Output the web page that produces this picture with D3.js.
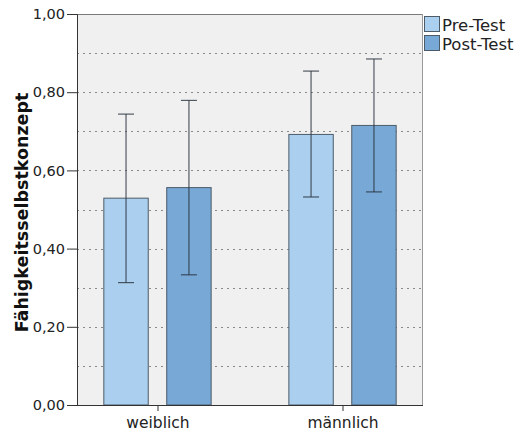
<!DOCTYPE html>
<html>
<head>
<meta charset="utf-8">
<script src="https://cdn.jsdelivr.net/npm/d3@7/dist/d3.min.js"></script>
<style>
  html, body { margin: 0; padding: 0; background: #fff; }
  svg { display: block; }
  text { font-family: "DejaVu Sans", sans-serif; }
</style>
</head>
<body>
<svg id="chart" width="520" height="434"></svg>
<script>
const categories = ["weiblich", "männlich"];
const seriesNames = ["Pre-Test", "Post-Test"];
const means = { "Pre-Test": [0.529, 0.692], "Post-Test": [0.556, 0.715] };
const lower = { "Pre-Test": [0.313, 0.532], "Post-Test": [0.333, 0.545] };
const upper = { "Pre-Test": [0.744, 0.854], "Post-Test": [0.779, 0.885] };
const yTicks = [0, 0.2, 0.4, 0.6, 0.8, 1.0];
const gridValues = [0.1, 0.2, 0.3, 0.4, 0.5, 0.6, 0.7, 0.8, 0.9];
const colors = { "Pre-Test": "#abcfee", "Post-Test": "#77a8d6" };

const svg = d3.select("#chart");
const m = { left: 77, right: 423, top: 14, bottom: 405 };

const y = d3.scaleLinear().domain([0, 1]).range([m.bottom, m.top]);
const x = d3.scalePoint().domain(categories).range([m.left, m.right]).padding(0.435);
const step = x.step();
const barW = step * 0.24;
const gap = step * 0.1;
const offs = { "Pre-Test": -gap / 2 - barW, "Post-Test": gap / 2 };

// background
svg.append("rect").attr("x", m.left).attr("y", m.top)
  .attr("width", m.right - m.left).attr("height", m.bottom - m.top)
  .attr("fill", "#f0f0f0");

// grid
svg.append("g").selectAll("line").data(gridValues).join("line")
  .attr("x1", m.left).attr("x2", m.right)
  .attr("y1", d => Math.round(y(d)) + 0.5).attr("y2", d => Math.round(y(d)) + 0.5)
  .attr("stroke", "#8a8a8a").attr("stroke-width", 1).attr("stroke-dasharray", "2,4");

// frame top/right
svg.append("line").attr("x1", m.left).attr("x2", m.right).attr("y1", m.top + 0.5).attr("y2", m.top + 0.5)
  .attr("stroke", "#7a7a7a");
svg.append("line").attr("x1", m.right - 0.5).attr("x2", m.right - 0.5).attr("y1", m.top).attr("y2", m.bottom)
  .attr("stroke", "#9a9a9a");

// bars
const data = [];
seriesNames.forEach(s => categories.forEach((c, i) => data.push({ s, c, v: means[s][i], lo: lower[s][i], hi: upper[s][i] })));

svg.append("g").selectAll("rect").data(data).join("rect")
  .attr("x", d => x(d.c) + offs[d.s])
  .attr("y", d => y(d.v))
  .attr("width", barW)
  .attr("height", d => y(0) - y(d.v))
  .attr("fill", d => colors[d.s])
  .attr("stroke", "#4d5b69").attr("stroke-width", 1);

// error bars
const eb = svg.append("g").attr("stroke", "#2b3540").attr("stroke-opacity", 0.8).attr("stroke-width", 1.2);
data.forEach(d => {
  const cx = x(d.c) + offs[d.s] + barW / 2;
  eb.append("line").attr("x1", cx).attr("x2", cx).attr("y1", y(d.hi)).attr("y2", y(d.lo));
  eb.append("line").attr("x1", cx - 8).attr("x2", cx + 8).attr("y1", y(d.hi)).attr("y2", y(d.hi));
  eb.append("line").attr("x1", cx - 8).attr("x2", cx + 8).attr("y1", y(d.lo)).attr("y2", y(d.lo));
});

// y axis
const yAxis = svg.append("g").attr("transform", `translate(${m.left},0)`)
  .call(d3.axisLeft(y).tickValues(yTicks).tickSize(10).tickPadding(2)
    .tickFormat(d => d3.format(".2f")(d).replace(".", ",")));
yAxis.select(".domain").attr("stroke", "#333");
yAxis.selectAll(".tick line").attr("stroke", "#333");
yAxis.selectAll("text").attr("font-size", 14.5).attr("fill", "#222")
  .attr("font-family", "DejaVu Sans, sans-serif");

// x axis
const xAxis = svg.append("g").attr("transform", `translate(0,${m.bottom})`)
  .call(d3.axisBottom(x).tickSize(6).tickPadding(6).tickSizeOuter(0));
xAxis.select(".domain").attr("stroke", "#333").attr("d", `M${m.left},0.5H${m.right}`);
xAxis.selectAll(".tick line").attr("stroke", "#333");
xAxis.selectAll("text").attr("font-size", 15.5).attr("fill", "#222")
  .attr("font-family", "DejaVu Sans, sans-serif");

// y title
svg.append("text")
  .attr("transform", `translate(28,${(m.top + m.bottom) / 2 + 3}) rotate(-90)`)
  .attr("text-anchor", "middle")
  .attr("font-size", 17.5).attr("font-weight", "bold").attr("fill", "#111")
  .text("Fähigkeitsselbstkonzept");

// legend
const lg = svg.append("g");
seriesNames.forEach((s, i) => {
  lg.append("rect").attr("x", 424.5).attr("y", 16.5 + i * 19).attr("width", 15).attr("height", 15)
    .attr("fill", colors[s]).attr("stroke", "#4d5b69");
  lg.append("text").attr("x", 442).attr("y", 30.5 + i * 19).attr("font-size", 16.5).attr("fill", "#222")
    .text(s);
});
</script>
</body>
</html>
